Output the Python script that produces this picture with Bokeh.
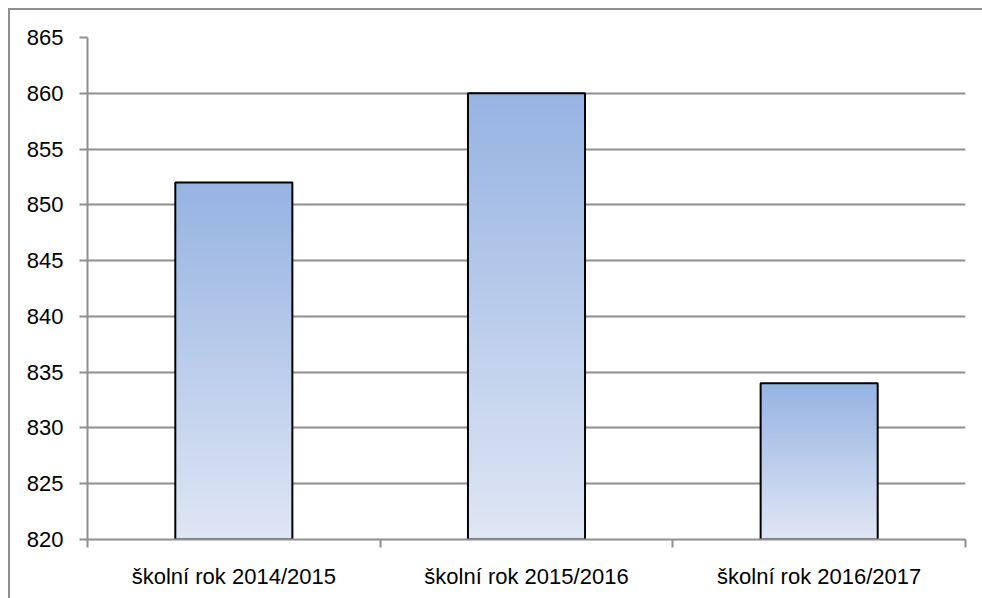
from bokeh.plotting import figure
from bokeh.models import FixedTicker, Range1d
from bokeh.embed import file_html
from bokeh.resources import INLINE

categories = ["školní rok 2014/2015", "školní rok 2015/2016", "školní rok 2016/2017"]
values = [852, 860, 834]
y_ticks = [820, 825, 830, 835, 840, 845, 850, 855, 860, 865]

y_min, y_max = 820, 865
top_rgb = (150, 179, 226)
bot_rgb = (223, 230, 244)
n_slices = 160
bar_w = 0.4

p = figure(width=974, height=590, output_backend="svg", toolbar_location=None,
           x_range=Range1d(0, len(categories)), y_range=Range1d(y_min, y_max),
           min_border_left=77, min_border_right=19, min_border_top=27, min_border_bottom=61)
p.styles = {"margin-left": "8px", "margin-top": "8px",
            "border-left": "2px solid #8f8f8f", "border-top": "2px solid #8f8f8f",
            "box-sizing": "border-box"}
p.outline_line_color = None
p.background_fill_color = "white"
p.border_fill_color = "white"

# gradient bars (slices from each bar's bottom to its value)
xs, bots, tops, cols = [], [], [], []
for i, v in enumerate(values):
    h = (v - y_min) / n_slices
    for k in range(n_slices):
        t = k / (n_slices - 1)  # 0 at bottom, 1 at top
        r = round(bot_rgb[0] + (top_rgb[0] - bot_rgb[0]) * t)
        g = round(bot_rgb[1] + (top_rgb[1] - bot_rgb[1]) * t)
        b = round(bot_rgb[2] + (top_rgb[2] - bot_rgb[2]) * t)
        xs.append(i + 0.5)
        bots.append(y_min + k * h)
        tops.append(y_min + (k + 1) * h + (0.1 if k < n_slices - 1 else 0))
        cols.append("#%02x%02x%02x" % (r, g, b))
p.vbar(x=xs, bottom=bots, top=tops, width=bar_w, fill_color=cols, line_color=None)
p.vbar(x=[i + 0.5 for i in range(len(values))], bottom=y_min, top=values, width=bar_w,
       fill_color=None, line_color="black", line_width=2)

# axes
p.xaxis.ticker = FixedTicker(ticks=[i + 0.5 for i in range(len(categories))],
                             minor_ticks=list(range(len(categories) + 1)))
p.xaxis.major_label_overrides = {i + 0.5: c for i, c in enumerate(categories)}
p.xaxis.major_tick_out = 0
p.xaxis.major_tick_in = 0
p.xaxis.minor_tick_out = 8
p.xaxis.minor_tick_in = 0
p.xaxis.minor_tick_line_color = "#8f8f8f"
p.xaxis.minor_tick_line_width = 2
p.xaxis.major_label_standoff = 16
p.yaxis.ticker = FixedTicker(ticks=y_ticks, minor_ticks=[])
p.yaxis.major_tick_out = 8
p.yaxis.major_tick_in = 0
p.yaxis.minor_tick_out = 0
p.yaxis.minor_tick_in = 0
p.yaxis.major_tick_line_color = "#8f8f8f"
p.yaxis.major_tick_line_width = 2
p.yaxis.major_label_standoff = 16
for ax in (p.xaxis[0], p.yaxis[0]):
    ax.axis_line_color = "#8f8f8f"
    ax.axis_line_width = 2
    ax.major_label_text_font = "Liberation Sans"
    ax.major_label_text_font_size = "22px"
    ax.major_label_text_color = "black"

p.xgrid.grid_line_color = None
p.ygrid.ticker = FixedTicker(ticks=y_ticks)
p.ygrid.grid_line_color = "#8f8f8f"
p.ygrid.grid_line_width = 2

open("out.html", "w").write(file_html(p, INLINE))
